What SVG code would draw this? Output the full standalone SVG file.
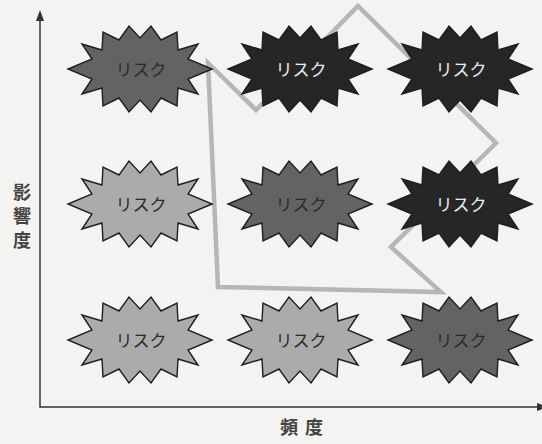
<svg xmlns="http://www.w3.org/2000/svg" width="542" height="444" viewBox="0 0 542 444">
<defs>
<style>
.star{stroke:#1e1e1e;stroke-width:1.4;stroke-linejoin:miter}
.dark{fill:#262626}
.mid{fill:#636363}
.light{fill:#ababab}
.lbl{font-family:"Noto Sans CJK JP","Noto Sans",sans-serif;font-size:17px;text-anchor:middle}
.tdark{fill:#2b2b2b}
.tlight{fill:#ececec}
.axis{stroke:#333;stroke-width:1.5;fill:none}
.axlbl{font-family:"Noto Sans CJK JP",sans-serif;font-size:18px;font-weight:700;fill:#444}
</style>
<path id="burst" d="M72,0 L48,10 L58,25 L38,19 L37,37 L21,29 L11,43 L0,31 L-11,43 L-21,29 L-37,37 L-38,19 L-58,25 L-48,10 L-72,0 L-48,-10 L-58,-25 L-38,-19 L-37,-37 L-21,-29 L-11,-43 L0,-31 L11,-43 L21,-29 L37,-37 L38,-19 L58,-25 L48,-10 Z"/>
</defs>
<rect width="542" height="444" fill="#f3f3f1"/>
<g id="axes">
<path class="axis" d="M40,18 V407 H539"/>
<polygon points="40,10 36,21 44,21" fill="#333"/>
<polygon points="548,407 537,403 537,411" fill="#333"/>
<text class="axlbl" x="22" y="183" writing-mode="vertical-rl" letter-spacing="6">影響度</text>
<text class="axlbl" x="305" y="434" text-anchor="middle" letter-spacing="7">頻度</text>
</g>
<g id="connectors">
<polygon points="208,63 256,110 358,6 496,143 391,247 441,292 218,287" fill="none" stroke="#b5b5ba" stroke-width="4.5" stroke-linejoin="miter"/>
</g>
<g id="r1c1"><use href="#burst" class="star mid" x="140" y="69"/><text class="lbl tdark" x="141" y="76">リスク</text></g>
<g id="r1c2"><use href="#burst" class="star dark" x="300" y="69"/><text class="lbl tlight" x="301" y="76">リスク</text></g>
<g id="r1c3"><use href="#burst" class="star dark" x="460" y="69"/><text class="lbl tlight" x="461" y="76">リスク</text></g>
<g id="r2c1"><use href="#burst" class="star light" x="140" y="204"/><text class="lbl tdark" x="141" y="211">リスク</text></g>
<g id="r2c2"><use href="#burst" class="star mid" x="300" y="204"/><text class="lbl tdark" x="301" y="211">リスク</text></g>
<g id="r2c3"><use href="#burst" class="star dark" x="460" y="204"/><text class="lbl tlight" x="461" y="211">リスク</text></g>
<g id="r3c1"><use href="#burst" class="star light" x="140" y="340"/><text class="lbl tdark" x="141" y="347">リスク</text></g>
<g id="r3c2"><use href="#burst" class="star light" x="300" y="340"/><text class="lbl tdark" x="301" y="347">リスク</text></g>
<g id="r3c3"><use href="#burst" class="star mid" x="460" y="340"/><text class="lbl tdark" x="461" y="347">リスク</text></g>
</svg>
